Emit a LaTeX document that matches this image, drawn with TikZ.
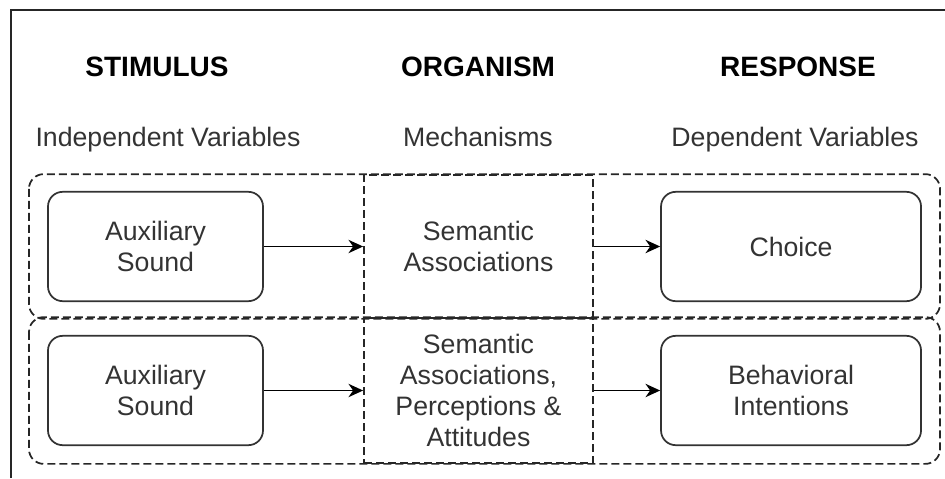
\documentclass[tikz,border=0pt]{standalone}
\usepackage{fontspec}
\setmainfont{Liberation Sans}
\usetikzlibrary{arrows.meta, backgrounds}
\definecolor{ink}{HTML}{333333}
\tikzset{
	hdr/.style={font=\fontsize{21}{25}\selectfont\bfseries, text=black, text height=15pt, text depth=0pt, inner sep=0pt},
	subhdr/.style={font=\fontsize{20}{23.25}\selectfont, text=ink, text height=14.3pt, text depth=0pt, inner sep=0pt},
	rbox/.style={draw=ink, line width=1.3pt, rounded corners=11pt, minimum height=82pt, align=center, font=\fontsize{20}{23.25}\selectfont, text=ink},
	dline/.style={draw=black!85, line width=1.3pt, dash pattern=on 6pt off 3pt},
	dbox/.style={dline, minimum width=171.75pt, align=center, font=\fontsize{20}{23.25}\selectfont, text=ink},
	arr/.style={draw=black, line width=1.3pt, -{Stealth[length=11pt,width=10pt,inset=3.5pt]}}
}

\begin{document}
\begin{tikzpicture}[x=0.75pt, y=-0.75pt]
		\useasboundingbox (0,0) rectangle (945,478);
		\draw[line width=1.6pt, draw=black!85] (11,478) |- (945,10);

		\node[hdr] (stim) at (157,67) {STIMULUS};
		\node[hdr] (org) [right of = stim, node distance=240.75pt] {ORGANISM};
		\node[hdr] (resp) [right of = org, node distance=240pt] {RESPONSE};
		\node[subhdr] (indep) [below of = stim, node distance=52.5pt, xshift=8.25pt] {Independent Variables};
		\node[subhdr] (mech) [below of = org, node distance=52.5pt] {Mechanisms};
		\node[subhdr] (dep) [below of = resp, node distance=52.5pt, xshift=-2.25pt] {Dependent Variables};

		\node[dbox, minimum height=107.25pt] (sem1) at (478.5,246.5) {Semantic\\Associations};
		\node[rbox, minimum width=161.25pt] (aux1) [left of = sem1, node distance=242.25pt] {Auxiliary\\Sound};
		\node[rbox, minimum width=195pt] (cho) [right of = sem1, node distance=234.4pt] {Choice};

		\node[dbox, minimum height=108.75pt] (sem2) [below of = sem1, node distance=108pt] {Semantic\\Associations,\\Perceptions \&\\Attitudes};
		\node[rbox, minimum width=161.25pt] (aux2) [below of = aux1, node distance=108pt] {Auxiliary\\Sound};
		\node[rbox, minimum width=195pt] (beh) [below of = cho, node distance=108pt] {Behavioral\\Intentions};

		\coordinate (lft) at (29,0);
		\coordinate (rgt) at (940,0);
		\begin{scope}[on background layer]
		\draw[dline, rounded corners=11pt] (sem1.north -| lft) rectangle (sem1.south -| rgt);
		\draw[dline, rounded corners=11pt] (sem2.north -| lft) rectangle (sem2.south -| rgt);
		\end{scope}

		\draw[arr] (aux1) -- (sem1);
		\draw[arr] (sem1) -- (cho);
		\draw[arr] (aux2) -- (sem2);
		\draw[arr] (sem2) -- (beh);
\end{tikzpicture}
\end{document}
